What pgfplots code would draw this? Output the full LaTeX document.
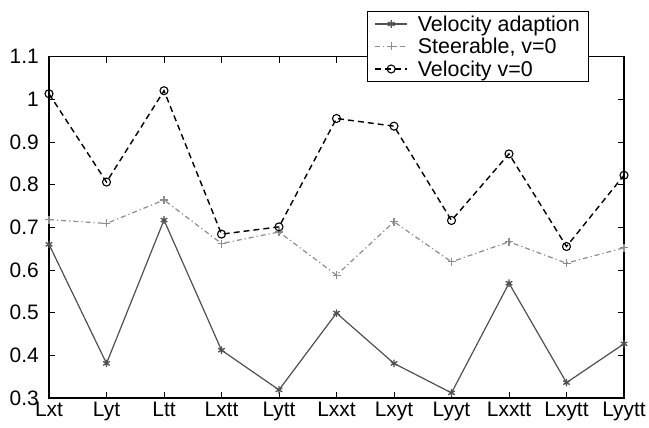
\documentclass[border=0pt]{standalone}
\usepackage{fontspec}
\setmainfont{Liberation Sans}
\usepackage{pgfplots}
\pgfplotsset{compat=1.18}
\definecolor{vagray}{HTML}{505050}
\definecolor{stgray}{HTML}{8C8C8C}
\begin{document}
\begin{tikzpicture}
\useasboundingbox (-49bp,-30bp) rectangle (600bp,398bp);
\begin{axis}[at={(0,0)}, anchor=south west, scale only axis,
  width=575bp, height=341.4bp,
  xmin=0, xmax=10, ymin=0.3, ymax=1.1,
  xtick={0,1,2,3,4,5,6,7,8,9,10},
  xticklabels={Lxt,Lyt,Ltt,Lxtt,Lytt,Lxxt,Lxyt,Lyyt,Lxxtt,Lxytt,Lyytt},
  ytick={0.3,0.4,0.5,0.6,0.7,0.8,0.9,1.0,1.1},
  yticklabels={0.3,0.4,0.5,0.6,0.7,0.8,0.9,1,1.1},
  tick align=inside, major tick length=6bp,
  tick style={line width=0.9bp, black},
  axis line style={line width=1.1bp},
  tick label style={font=\fontsize{21}{24}\selectfont},
  xticklabel style={yshift=-3bp, inner sep=1bp},
  yticklabel style={xshift=-9bp, inner sep=1bp},
  legend image code/.code={\draw[mark repeat=2,mark phase=2] plot coordinates {(0bp,0bp) (16bp,0bp) (32bp,0bp)};},
  legend style={at={(axis description cs:0.553,1.1336)}, anchor=north west,
    draw=black, line width=1bp, fill=white,
    font=\fontsize{21.5}{24}\selectfont, cells={anchor=west},
    inner xsep=7bp, inner ysep=2bp, row sep=1.5bp,
    /tikz/every odd column/.append style={column sep=8bp}},
  clip=false,
]
\addplot[vagray, line width=1.2bp, mark=asterisk, mark size=3.8bp, mark options={solid, line width=1.3bp, vagray}]
 coordinates {(0,0.660) (1,0.381) (2,0.717) (3,0.412) (4,0.319) (5,0.499) (6,0.381) (7,0.312) (8,0.569) (9,0.336) (10,0.427)};
\addlegendentry{Velocity adaption}
\addplot[stgray, line width=1.2bp, dash pattern=on 5bp off 3bp on 1.2bp off 3bp, mark=+, mark size=4bp, mark options={solid, line width=1.1bp, stgray}]
 coordinates {(0,0.718) (1,0.709) (2,0.764) (3,0.662) (4,0.689) (5,0.588) (6,0.713) (7,0.619) (8,0.666) (9,0.616) (10,0.652)};
\addlegendentry{Steerable, v=0}
\addplot[black, line width=1.4bp, dash pattern=on 6bp off 4bp, mark=o, mark size=4bp, mark options={solid, line width=1.1bp, black}]
 coordinates {(0,1.013) (1,0.806) (2,1.020) (3,0.684) (4,0.701) (5,0.955) (6,0.937) (7,0.716) (8,0.872) (9,0.655) (10,0.822)};
\addlegendentry{Velocity v=0}
\end{axis}
\end{tikzpicture}
\end{document}
